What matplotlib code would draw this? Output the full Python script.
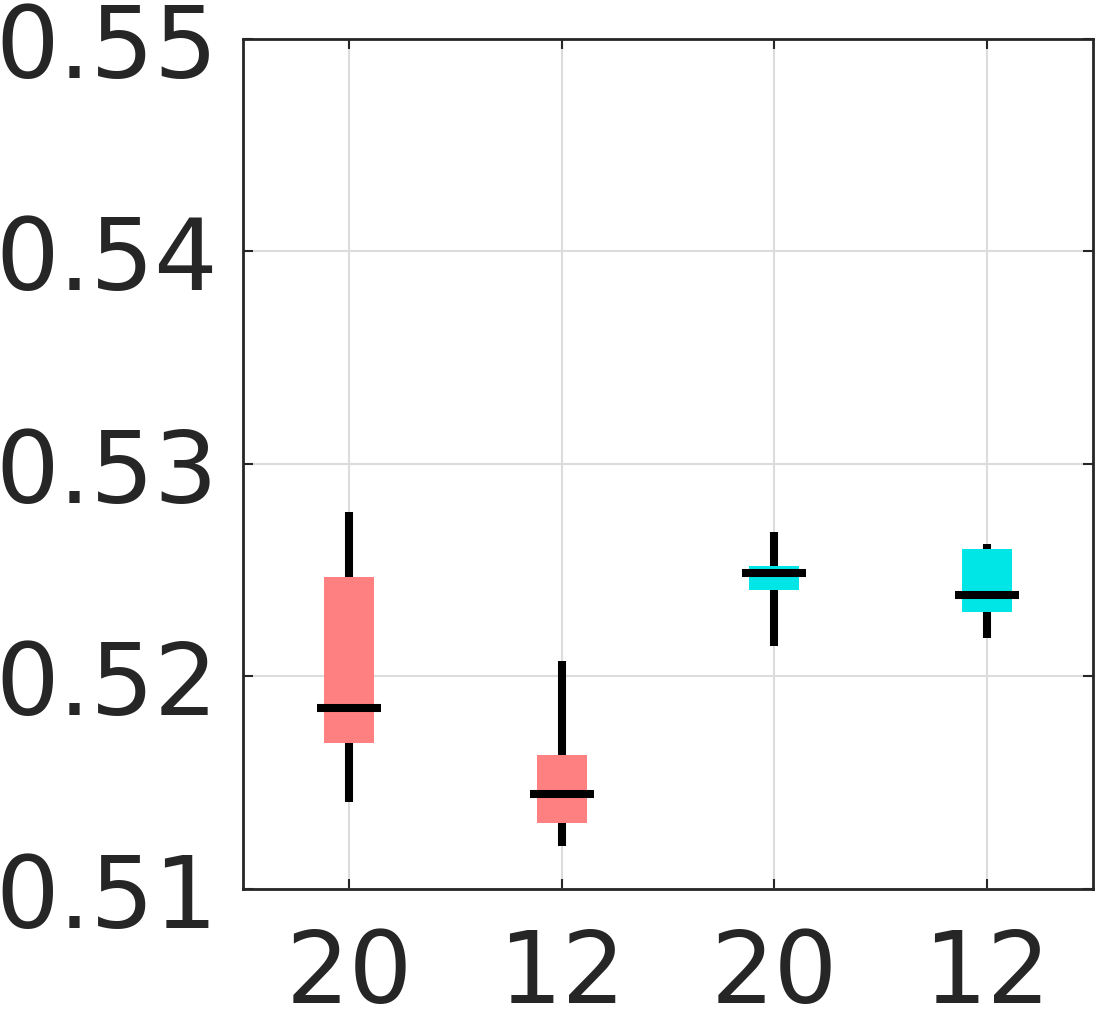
import numpy as np
import matplotlib.pyplot as plt

# box statistics
labels = ['20', '12', '20', '12']
colors = ['#ff8080', '#ff8080', '#00e5e5', '#00e5e5']
whislo = [0.51409, 0.51202, 0.52144, 0.52181]
q1 = [0.51687, 0.51311, 0.52409, 0.52304]
med = [0.51852, 0.51447, 0.52487, 0.52384]
q3 = [0.52468, 0.51631, 0.52518, 0.52600]
whishi = [0.52774, 0.52074, 0.52680, 0.52623]

stats = []
for i in range(len(labels)):
    stats.append(dict(whislo=whislo[i], q1=q1[i], med=med[i], q3=q3[i],
                      whishi=whishi[i], fliers=[], label=labels[i]))

fig = plt.figure(figsize=(10.96, 10.12), dpi=100)
ax = fig.add_axes([0.2217, 0.1206, 0.7756, 0.8399])

pos = np.arange(1, len(labels) + 1)
bp = ax.bxp(stats, positions=pos, widths=0.235, patch_artist=True,
            showcaps=False, showfliers=False,
            boxprops=dict(edgecolor='none', linewidth=0),
            whiskerprops=dict(color='black', linewidth=5.8, solid_capstyle='butt'),
            medianprops=dict(linewidth=0))
for patch, c in zip(bp['boxes'], colors):
    patch.set_facecolor(c)
ax.hlines(med, pos - 0.15, pos + 0.15, colors='black', linewidth=5.8, zorder=4)

ax.set_xlim(0.5, 4.5)
ax.set_ylim(0.51, 0.55)
ax.set_yticks([0.51, 0.52, 0.53, 0.54, 0.55])
ax.set_yticklabels(['0.51', '0.52', '0.53', '0.54', '0.55'])
ax.set_xticks(pos)
ax.set_xticklabels(labels)
ax.grid(True, color='#dcdcdc', linewidth=1.5)
ax.set_axisbelow(True)
ax.tick_params(direction='in', length=7, width=1.5, colors='#262626',
               labelsize=72, top=True, right=True)
ax.tick_params(axis='x', pad=27)
ax.tick_params(axis='y', pad=18)
for s in ax.spines.values():
    s.set_color('#262626')
    s.set_linewidth(2)

fig.savefig('out.png', dpi=100)
